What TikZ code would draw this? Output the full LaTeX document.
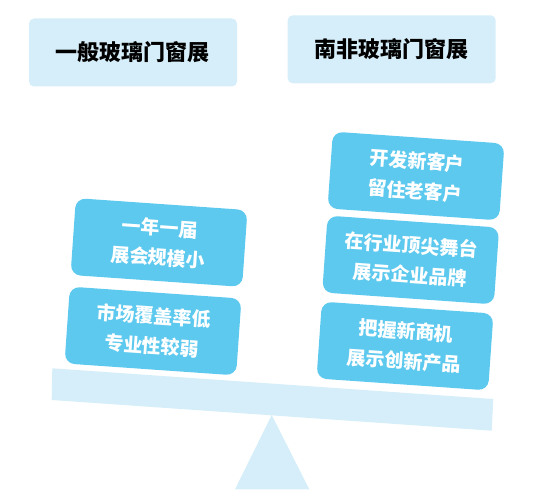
\documentclass[tikz,border=0pt]{standalone}
\usepackage{fontspec}
\setmainfont{Noto Sans CJK SC}
\definecolor{paleblue}{HTML}{D6EEF9}
\definecolor{skyblue}{HTML}{5DC9EE}
\begin{document}
\begin{tikzpicture}[x=1pt,y=-1pt,
  titlebox/.style={fill=paleblue,rounded corners=5pt,minimum width=208pt,minimum height=68pt,
    font=\bfseries\fontsize{22}{22}\selectfont},
  cardbox/.style={fill=skyblue,rounded corners=10pt,minimum width=172pt,minimum height=77pt,
    rotate=-4,text=white,align=center,font=\bfseries\fontsize{19}{30}\selectfont}]
  \useasboundingbox (0,0) rectangle (552,495);
  % titles
  \node[titlebox] (general) at (133,52.5) {一般玻璃门窗展};
  \node[titlebox] (southafrica) at (391.7,49.3) {南非玻璃门窗展};
  % seesaw
  \fill[paleblue] (271.7,415) -- (309.3,489.3) -- (235,489.3) -- cycle; % pivot
  \fill[paleblue] (52.3,368.3) -- (493.3,399) -- (491.7,430.7) -- (51.7,400) -- cycle; % beam
  % left side
  \node[cardbox] (yearly) at (159,242.5) {一年一届\\展会规模小};
  \node[cardbox] (coverage) at (153,331) {市场覆盖率低\\专业性较弱};
  % right side
  \node[cardbox] (clients) at (416,176) {开发新客户\\留住老客户};
  \node[cardbox] (brand) at (410.7,260) {在行业顶尖舞台\\展示企业品牌};
  \node[cardbox] (products) at (405,346) {把握新商机\\展示创新产品};
\end{tikzpicture}
\end{document}
